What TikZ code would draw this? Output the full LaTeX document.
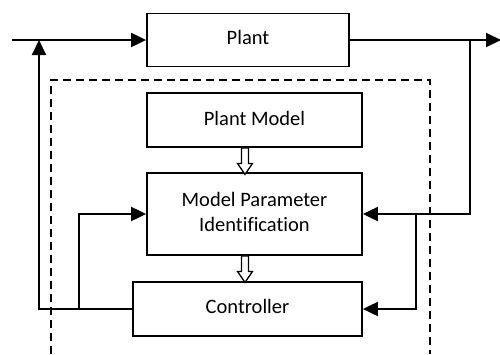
\documentclass[tikz,border=0pt]{standalone}
\usepackage{fontspec}
\setmainfont{Carlito}[Ligatures={NoCommon,NoContextual}]
\usetikzlibrary{arrows.meta,calc}
\begin{document}
\begin{tikzpicture}[x=1pt,y=-1pt,
  box/.style={draw,line width=1.8pt,rectangle,inner sep=0pt,align=center,
    font=\fontsize{20.5}{26}\selectfont},
  conn/.style={line width=2pt},
  arr/.style={conn,-{Triangle[length=15pt,width=14pt]}},
  hollow/.style={draw,line width=1.3pt,fill=white}]
\useasboundingbox (0,0) rectangle (500,354);
\node[box,minimum width=202pt,minimum height=53pt] (plant) at (248,40) {\raisebox{5pt}{Plant}};
\node[box,minimum width=215pt,minimum height=54pt] (pm) at (254.5,120) {\raisebox{3.5pt}{Plant Model}};
\node[box,minimum width=215pt,minimum height=82pt] (mpi) at (254.5,214) {\raisebox{4pt}{\begin{tabular}{@{}c@{}}Model Parameter\\[-0.5pt]Identification\end{tabular}}};
\node[box,minimum width=229pt,minimum height=54pt] (ctrl) at (247.5,309) {\raisebox{4.5pt}{Controller}};
% dashed frame
\draw[line width=1.6pt,dash pattern=on 8pt off 5pt] (51,354) -- (51,80) -- (430,80) -- (430,354);
% coordinates
\coordinate (in) at (12,40);
\coordinate (out) at (501,40);
\coordinate (j1) at (470,40);
\coordinate (j2) at (416,214);
\coordinate (j3) at (79,309);
\coordinate (j0) at (39,40);
% connectors
\draw[arr] (in) -- (plant.west);
\draw[arr] (plant.east) -- (out);
\draw[arr] (j1) |- (mpi.east);
\draw[arr] (j2) |- (ctrl.east);
\draw[arr] (ctrl.west) -| (j0);
\draw[arr] (j3) |- (mpi.west);
% hollow arrows
\path[hollow] (pm.south -| 245,0) ++(-3.5,0) -- ++(0,15.5) -- ++(-4,0) -- ++(7.5,11) -- ++(7.5,-11) -- ++(-4,0) -- ++(0,-15.5) -- cycle;
\path[hollow] (mpi.south -| 245,0) ++(-3.5,0) -- ++(0,15.5) -- ++(-4,0) -- ++(7.5,11) -- ++(7.5,-11) -- ++(-4,0) -- ++(0,-15.5) -- cycle;
\end{tikzpicture}
\end{document}
